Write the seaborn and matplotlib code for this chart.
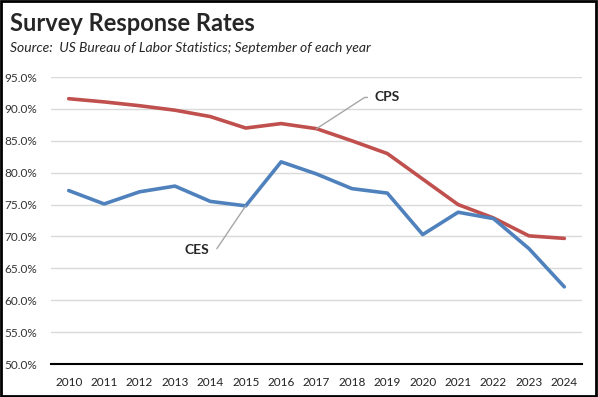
import pandas as pd
import matplotlib
matplotlib.use('Agg')
import matplotlib.pyplot as plt
import seaborn as sns
from matplotlib.patches import Rectangle
from matplotlib.ticker import FixedLocator, FuncFormatter

years = list(range(2010, 2025))
cps = [91.6, 91.1, 90.5, 89.8, 88.8, 87.0, 87.7, 86.9, 85.0, 83.0, 79.0, 75.0, 72.9, 70.1, 69.7]
ces = [77.2, 75.1, 77.0, 77.9, 75.5, 74.8, 81.7, 79.8, 77.5, 76.8, 70.3, 73.8, 72.8, 68.1, 62.1]

df = pd.DataFrame({'year': years * 2,
                   'rate': cps + ces,
                   'series': ['CPS'] * len(years) + ['CES'] * len(years)})

sns.set_style('white')
plt.rcParams['font.family'] = ['Lato', 'DejaVu Sans']

fig = plt.figure(figsize=(5.98, 3.97), dpi=100)
ax = fig.add_axes([0.0853, 0.083, 0.888, 0.723])

sns.lineplot(data=df, x='year', y='rate', hue='series',
             palette={'CPS': '#C0504D', 'CES': '#4F81BD'},
             linewidth=2.6, legend=False, ax=ax)

ax.set_xlim(2009.5, 2024.5)
ax.set_ylim(50, 95)
ax.set_yticks([50, 55, 60, 65, 70, 75, 80, 85, 90, 95])
ax.yaxis.set_major_formatter(FuncFormatter(lambda v, p: f'{v:.1f}%'))
ax.grid(axis='y', color='#D9D9D9', linewidth=1)
ax.set_axisbelow(True)

# tick marks on category boundaries, labels in between
ax.xaxis.set_major_locator(FixedLocator([y - 0.5 for y in years] + [2024.5]))
ax.xaxis.set_major_formatter(FuncFormatter(lambda v, p: ''))
ax.set_xticks(years, [str(y) for y in years], minor=True)
ax.tick_params(axis='x', which='major', direction='inout', length=8, width=1.2, color='black')
ax.tick_params(axis='x', which='minor', length=0, pad=9, labelsize=8.5, colors='#222222')
ax.tick_params(axis='y', length=0, labelsize=8.5, colors='#333333', pad=10)

for s in ['top', 'right', 'left']:
    ax.spines[s].set_visible(False)
ax.spines['bottom'].set_color('black')
ax.spines['bottom'].set_linewidth(1.5)
ax.set_xlabel('')
ax.set_ylabel('')

# line labels with leaders
ax.annotate('CPS', xy=(2017, cps[7]), xytext=(2018.65, 91.8),
            fontsize=10, fontweight='bold', va='center', ha='left',
            arrowprops=dict(arrowstyle='-', color='#A6A6A6', lw=1,
                            connectionstyle='angle,angleA=0,angleB=33,rad=0',
                            shrinkA=3, shrinkB=0))
ax.annotate('CES', xy=(2015, ces[5]), xytext=(2013.98, 67.9),
            fontsize=10, fontweight='bold', va='center', ha='right',
            arrowprops=dict(arrowstyle='-', color='#A6A6A6', lw=1,
                            connectionstyle='angle,angleA=0,angleB=56,rad=0',
                            shrinkA=3, shrinkB=0))

fig.text(0.017, 0.942, 'Survey Response Rates', fontsize=17, fontweight='bold', va='center')
fig.text(0.017, 0.878, 'Source:  US Bureau of Labor Statistics; September of each year',
         fontsize=10, style='italic', va='center')

fig.patches.append(Rectangle((0.002, 0.003), 0.995, 0.994, transform=fig.transFigure,
                             fill=False, edgecolor='black', linewidth=2))

fig.savefig('out.png', dpi=100)
